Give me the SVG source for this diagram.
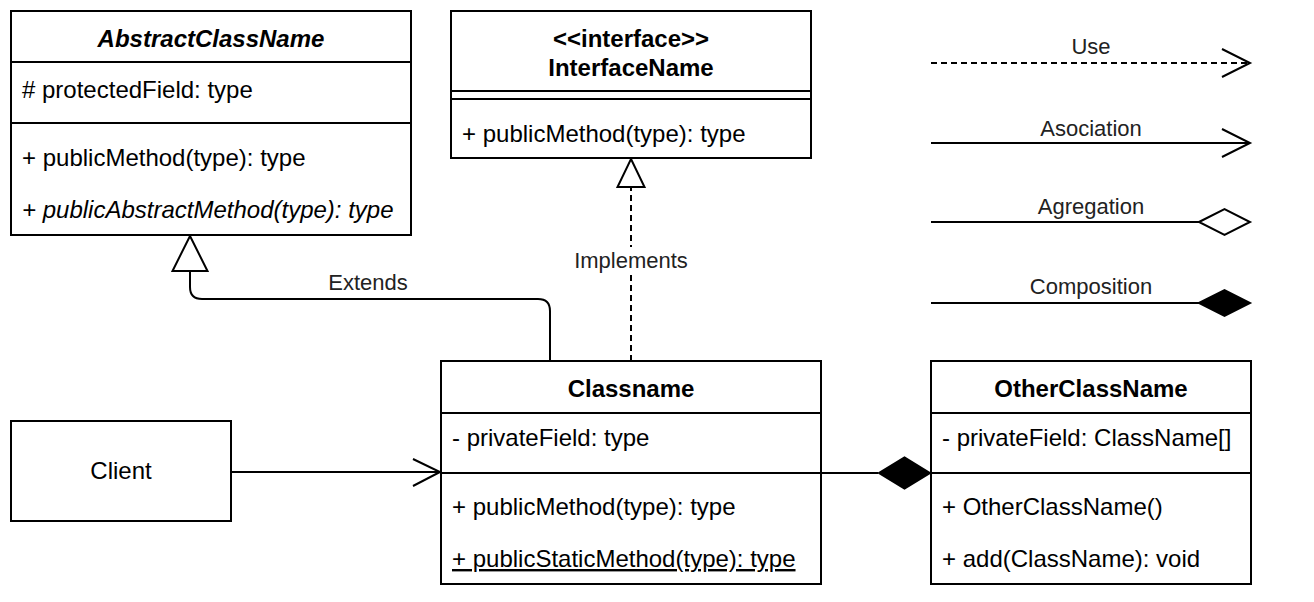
<svg xmlns="http://www.w3.org/2000/svg" width="1314" height="602" viewBox="0 0 1314 602">
<style>
.box{fill:#fff;stroke:#000;stroke-width:2}
.ln{stroke:#000;stroke-width:2;fill:none}
.dash{stroke-dasharray:6 4}
text{font-family:"Liberation Sans",Arial,Helvetica,sans-serif;font-size:24px;fill:#000}
.t{text-anchor:middle;font-weight:bold}
.c{text-anchor:middle}
.lbl{text-anchor:middle;fill:#222;font-size:22px}
.open{fill:#fff;stroke:#000;stroke-width:2}
.fill{fill:#000;stroke:#000;stroke-width:2}
</style>
<rect width="1314" height="602" fill="#fff"/>

<g id="connectors">
  <g id="extends">
    <path class="ln" d="M550,361 V311 Q550,299 538,299 H202 Q190,299 190,287 V271"/>
    <polygon class="open" points="190,236 207.5,271 172.5,271"/>
    <text class="lbl" x="368" y="290">Extends</text>
  </g>
  <g id="implements">
    <line class="ln dash" x1="631" y1="361" x2="631" y2="187"/>
    <polygon class="open" points="631,159 644.5,187 617.5,187"/>
    <rect x="572" y="247" width="118" height="28" fill="#fff"/>
    <text class="lbl" x="631" y="268">Implements</text>
  </g>
  <g id="client-assoc">
    <line class="ln" x1="231" y1="472" x2="440" y2="472"/>
    <polyline class="ln" points="413,459 440,472 413,486"/>
  </g>
  <g id="composition">
    <line class="ln" x1="821" y1="473" x2="878" y2="473"/>
    <polygon class="fill" points="930,473 904.5,457.5 879,473 904.5,488.5"/>
  </g>
  <g id="legend-use">
    <line class="ln dash" x1="931" y1="63" x2="1249" y2="63"/>
    <polyline class="ln" points="1222,49 1250,63 1222,77"/>
    <text class="lbl" x="1091" y="54">Use</text>
  </g>
  <g id="legend-assoc">
    <line class="ln" x1="931" y1="143" x2="1249" y2="143"/>
    <polyline class="ln" points="1222,129 1250,143 1222,157"/>
    <text class="lbl" x="1091" y="136">Asociation</text>
  </g>
  <g id="legend-agg">
    <line class="ln" x1="931" y1="222" x2="1199" y2="222"/>
    <polygon class="open" points="1199,222 1224.5,209 1250,222 1224.5,235"/>
    <text class="lbl" x="1091" y="214">Agregation</text>
  </g>
  <g id="legend-comp">
    <line class="ln" x1="931" y1="303" x2="1199" y2="303"/>
    <polygon class="fill" points="1199,303 1224.5,290 1250,303 1224.5,316"/>
    <text class="lbl" x="1091" y="294">Composition</text>
  </g>
</g>

<g id="AbstractClassName">
  <rect class="box" x="11" y="11" width="400" height="224"/>
  <line class="ln" x1="11" y1="62" x2="411" y2="62"/>
  <line class="ln" x1="11" y1="123" x2="411" y2="123"/>
  <text class="t" x="211" y="47" font-style="italic">AbstractClassName</text>
  <text x="22" y="98"># protectedField: type</text>
  <text x="22" y="166">+ publicMethod(type): type</text>
  <text x="22" y="218" font-style="italic">+ publicAbstractMethod(type): type</text>
</g>

<g id="InterfaceName">
  <rect class="box" x="451" y="11" width="360" height="147"/>
  <line class="ln" x1="451" y1="91" x2="811" y2="91"/>
  <line class="ln" x1="451" y1="99" x2="811" y2="99"/>
  <text class="t" x="631" y="47" font-size="22">&lt;&lt;interface&gt;&gt;</text>
  <text class="t" x="631" y="76" font-size="21.5">InterfaceName</text>
  <text x="462" y="142">+ publicMethod(type): type</text>
</g>

<g id="Classname">
  <rect class="box" x="441" y="361" width="380" height="223"/>
  <line class="ln" x1="441" y1="413" x2="821" y2="413"/>
  <line class="ln" x1="441" y1="473" x2="821" y2="473"/>
  <text class="t" x="631" y="397">Classname</text>
  <text x="452" y="446">- privateField: type</text>
  <text x="452" y="515">+ publicMethod(type): type</text>
  <text x="452" y="567" text-decoration="underline">+ publicStaticMethod(type): type</text>
</g>

<g id="OtherClassName">
  <rect class="box" x="931" y="361" width="320" height="223"/>
  <line class="ln" x1="931" y1="413" x2="1251" y2="413"/>
  <line class="ln" x1="931" y1="473" x2="1251" y2="473"/>
  <text class="t" x="1091" y="397">OtherClassName</text>
  <text x="942" y="446">- privateField: ClassName[]</text>
  <text x="942" y="515">+ OtherClassName()</text>
  <text x="942" y="567">+ add(ClassName): void</text>
</g>

<g id="Client">
  <rect class="box" x="11" y="421" width="220" height="100"/>
  <text class="c" x="121" y="479">Client</text>
</g>
</svg>
